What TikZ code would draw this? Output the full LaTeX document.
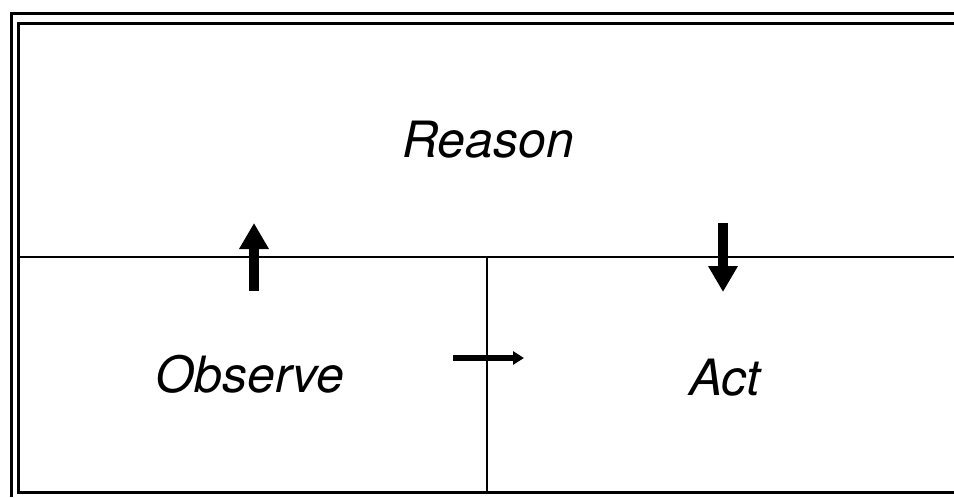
\documentclass[tikz,border=0pt]{standalone}
\usepackage{fontspec}
\setmainfont{TeX Gyre Heros}
\usetikzlibrary{arrows.meta}

\begin{document}
\begin{tikzpicture}[x=1pt, y=-1pt,
  frame/.style={line width=3pt},
  divider/.style={line width=2pt},
  phase/.style={font=\itshape\fontsize{50}{60}\selectfont, anchor=base, inner sep=0pt},
  bigarr/.style={line width=10pt, -{Triangle[width=28pt,length=26pt]}},
  smallarr/.style={line width=6pt, -{Triangle[width=13pt,length=11pt]}},
]
\useasboundingbox (0,0) rectangle (954,498);

% double frame, top and left
\draw[frame] (954,13) -- (11,13) -- (11,497);
\draw[frame] (954,23) -- (18,23) -- (18,492) -- (954,492);

% cells
\coordinate (midL) at (18,257);
\coordinate (midR) at (954,257);
\coordinate (splitT) at (487,257);
\coordinate (splitB) at (487,492);
\draw[divider] (midL) -- (midR);
\draw[divider] (splitT) -- (splitB);

\node[phase] (reason) at (488,157) {Reason};
\node[phase] (observe) at (250,392) {Observe};
\node[phase] (act) at (725,395) {Act};

% flow between cells
\coordinate (obsOut) at (254,291);
\coordinate (reaIn) at (254,223);
\coordinate (reaOut) at (723,223);
\coordinate (actIn) at (723,292);
\coordinate (sideOut) at (453,358);
\coordinate (sideIn) at (524,358);
\draw[bigarr] (obsOut) -- (reaIn);
\draw[bigarr] (reaOut) -- (actIn);
\draw[smallarr] (sideOut) -- (sideIn);

\end{tikzpicture}
\end{document}
